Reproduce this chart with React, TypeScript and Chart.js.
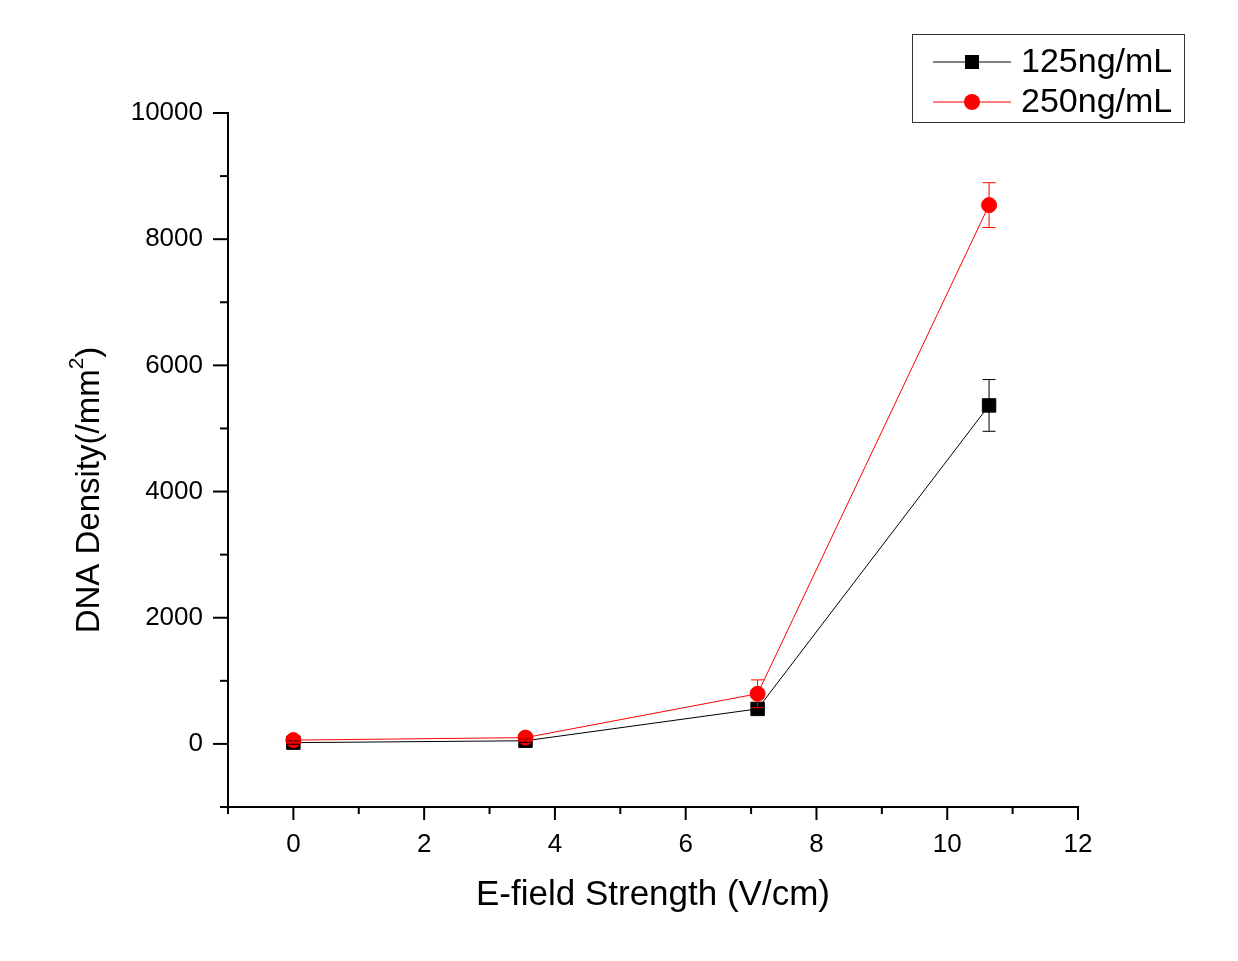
import React, { useEffect, useRef } from "react";
import { Chart, registerables } from "chart.js";

Chart.register(...registerables);

const xValues = [0, 3.55, 7.1, 10.64];
const series125 = [20, 50, 555, 5365];
const err125 = [25, 25, 60, 410];
const series250 = [60, 100, 795, 8540];
const err250 = [30, 35, 220, 355];
const seriesLabels = ["125ng/mL", "250ng/mL"];
const seriesColors = ["#000000", "#ff0000"];
const seriesMarkers = ["rect", "circle"];
const xTitle = "E-field Strength (V/cm)";
const yTitleMain = "DNA Density(/mm";
const yTitleSup = "2";
const yTitleEnd = ")";

const FONT = "'Liberation Sans', Arial, sans-serif";

const tickPlugin = {
  id: "customTicks",
  afterDraw(chart: any) {
    const ctx = chart.ctx;
    const xs = chart.scales.x;
    const ys = chart.scales.y;
    const area = chart.chartArea;
    ctx.save();
    ctx.strokeStyle = "#000";
    ctx.lineWidth = 2;
    for (const t of xs.ticks) {
      const px = xs.getPixelForValue(t.value);
      const major = Math.round(t.value) % 2 === 0;
      const len = major ? 13 : 7;
      ctx.beginPath();
      ctx.moveTo(px, area.bottom);
      ctx.lineTo(px, area.bottom + len);
      ctx.stroke();
    }
    for (const t of ys.ticks) {
      const py = ys.getPixelForValue(t.value);
      const major = Math.round(t.value) % 2000 === 0;
      const len = major ? 15 : 8;
      ctx.beginPath();
      ctx.moveTo(area.left, py);
      ctx.lineTo(area.left - len, py);
      ctx.stroke();
    }
    ctx.restore();
  },
};

const errorBarPlugin = {
  id: "errorBars",
  afterDatasetsDraw(chart: any) {
    const ctx = chart.ctx;
    const xs = chart.scales.x;
    const ys = chart.scales.y;
    const errs = [err125, err250];
    const vals = [series125, series250];
    ctx.save();
    ctx.lineWidth = 1;
    for (let d = 0; d < 2; d++) {
      ctx.strokeStyle = seriesColors[d];
      for (let i = 0; i < xValues.length; i++) {
        const px = xs.getPixelForValue(xValues[i]);
        const top = ys.getPixelForValue(vals[d][i] + errs[d][i]);
        const bot = ys.getPixelForValue(vals[d][i] - errs[d][i]);
        const half = 6.5;
        ctx.beginPath();
        ctx.moveTo(px, top);
        ctx.lineTo(px, bot);
        ctx.moveTo(px - half, top);
        ctx.lineTo(px + half, top);
        ctx.moveTo(px - half, bot);
        ctx.lineTo(px + half, bot);
        ctx.stroke();
      }
    }
    ctx.restore();
  },
};

const yTitlePlugin = {
  id: "yTitle",
  afterDraw(chart: any) {
    const ctx = chart.ctx;
    ctx.save();
    const mainFont = `33px ${FONT}`;
    const supFont = `21px ${FONT}`;
    ctx.font = mainFont;
    const w1 = ctx.measureText(yTitleMain).width;
    const w3 = ctx.measureText(yTitleEnd).width;
    ctx.font = supFont;
    const w2 = ctx.measureText(yTitleSup).width;
    const total = w1 + w2 + w3;
    const cx = 90;
    const cy = 490;
    ctx.translate(cx, cy);
    ctx.rotate(-Math.PI / 2);
    ctx.fillStyle = "#000";
    ctx.textBaseline = "middle";
    ctx.textAlign = "left";
    let x = -total / 2;
    ctx.font = mainFont;
    ctx.fillText(yTitleMain, x, 0);
    x += w1;
    ctx.font = supFont;
    ctx.fillText(yTitleSup, x, -13);
    x += w2;
    ctx.font = mainFont;
    ctx.fillText(yTitleEnd, x, 0);
    ctx.restore();
  },
};

const legendPlugin = {
  id: "customLegend",
  afterDraw(chart: any) {
    const ctx = chart.ctx;
    ctx.save();
    ctx.strokeStyle = "#333";
    ctx.lineWidth = 1;
    ctx.strokeRect(912.5, 34.5, 272, 88);
    const rows = [62, 102];
    for (let i = 0; i < seriesLabels.length; i++) {
      const y = rows[i];
      ctx.strokeStyle = seriesColors[i];
      ctx.lineWidth = 1;
      ctx.beginPath();
      ctx.moveTo(933, y);
      ctx.lineTo(1011, y);
      ctx.stroke();
      ctx.fillStyle = seriesColors[i];
      if (seriesMarkers[i] === "rect") {
        ctx.fillRect(972 - 7, y - 7, 14, 14);
      } else {
        ctx.beginPath();
        ctx.arc(972, y, 8, 0, Math.PI * 2);
        ctx.fill();
      }
      ctx.fillStyle = "#000";
      ctx.font = `34px ${FONT}`;
      ctx.textBaseline = "middle";
      ctx.textAlign = "left";
      ctx.fillText(seriesLabels[i], 1021, y + 1);
    }
    ctx.restore();
  },
};

export default function App() {
  const ref = useRef<HTMLCanvasElement | null>(null);
  useEffect(() => {
    if (!ref.current) return;
    const toPts = (ys: number[]) => xValues.map((x, i) => ({ x, y: ys[i] }));
    const chart = new Chart(ref.current, {
      type: "line",
      data: {
        datasets: [
          {
            label: seriesLabels[0],
            data: toPts(series125),
            borderColor: seriesColors[0],
            backgroundColor: seriesColors[0],
            borderWidth: 1,
            pointStyle: "rect",
            pointRadius: 9.5,
            pointBorderWidth: 1,
            pointBackgroundColor: seriesColors[0],
            pointBorderColor: seriesColors[0],
            order: 2,
          },
          {
            label: seriesLabels[1],
            data: toPts(series250),
            borderColor: seriesColors[1],
            backgroundColor: seriesColors[1],
            borderWidth: 1,
            pointStyle: "circle",
            pointRadius: 7.5,
            pointBorderWidth: 1,
            pointBackgroundColor: seriesColors[1],
            pointBorderColor: seriesColors[1],
            order: 1,
          },
        ],
      },
      options: {
        responsive: false,
        animation: false,
        layout: { padding: { top: 113, right: 160, left: 0, bottom: 0 } },
        plugins: { legend: { display: false }, tooltip: { enabled: false } },
        scales: {
          x: {
            type: "linear",
            min: -1,
            max: 12,
            grid: { display: false, drawTicks: false },
            border: { display: true, color: "#000", width: 2 },
            ticks: {
              stepSize: 1,
              autoSkip: false,
              maxRotation: 0,
              padding: 22,
              color: "#000",
              font: { family: FONT, size: 26 },
              callback: (v: any) => (Math.round(v) % 2 === 0 ? String(v) : ""),
            },
            title: {
              display: true,
              text: xTitle,
              color: "#000",
              font: { family: FONT, size: 35 },
              padding: { top: 0, bottom: 45 },
            },
            afterFit: (s: any) => {
              s.height = 154;
            },
          },
          y: {
            type: "linear",
            min: -1000,
            max: 10000,
            grid: { display: false, drawTicks: false },
            border: { display: true, color: "#000", width: 2 },
            ticks: {
              stepSize: 1000,
              autoSkip: false,
              padding: 25,
              color: "#000",
              font: { family: FONT, size: 26 },
              callback: (v: any) => (Math.round(v) % 2000 === 0 ? String(v) : ""),
            },
            afterFit: (s: any) => {
              s.width = 228;
            },
          },
        },
      },
      plugins: [tickPlugin, errorBarPlugin, yTitlePlugin, legendPlugin],
    } as any);
    return () => chart.destroy();
  }, []);
  return (
    <div style={{ position: "fixed", left: 0, top: 0, width: 1238, height: 961, background: "#fff" }}>
      <canvas ref={ref} width={1238} height={961} style={{ width: 1238, height: 961 }} />
    </div>
  );
}
